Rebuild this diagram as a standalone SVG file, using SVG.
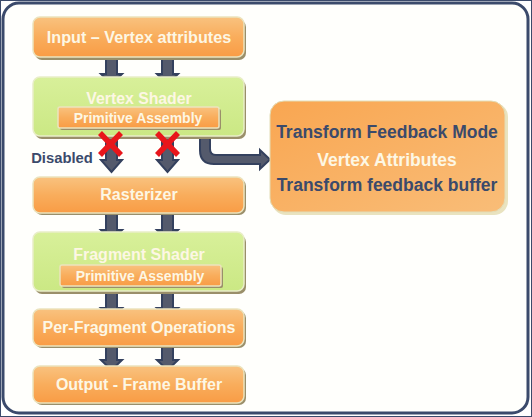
<svg xmlns="http://www.w3.org/2000/svg" width="532" height="417" viewBox="0 0 532 417">
<defs>
<linearGradient id="og" x1="0" y1="0" x2="0" y2="1">
<stop offset="0" stop-color="#f9c27f"/>
<stop offset="0.5" stop-color="#f9ad5c"/>
<stop offset="1" stop-color="#f99c45"/>
</linearGradient>
<linearGradient id="og2" x1="0" y1="0" x2="1" y2="1">
<stop offset="0" stop-color="#f9a651"/>
<stop offset="1" stop-color="#f9bd78"/>
</linearGradient>
<linearGradient id="gg" x1="0" y1="0" x2="0" y2="1">
<stop offset="0" stop-color="#d8f09a"/>
<stop offset="1" stop-color="#cbe884"/>
</linearGradient>
</defs>
<style>
.sh{fill:#9a8f6a;}
.ob{fill:url(#og);stroke:#ebe3bd;stroke-width:1.5;}
.gb{fill:url(#gg);stroke:#e9eec8;stroke-width:1.5;}
.t{font-family:"Liberation Sans",Arial,sans-serif;font-weight:bold;fill:#fdf7e4;text-anchor:middle;}
.d{font-family:"Liberation Sans",Arial,sans-serif;font-weight:bold;fill:#3b4a6b;text-anchor:middle;}
.ar{fill:#545a6c;stroke:#34415e;stroke-width:2;stroke-linejoin:miter;}
.x{stroke:#e8161b;stroke-width:5.5;stroke-linecap:butt;}
</style>
<rect x="0.5" y="0.5" width="531" height="416" fill="#ffffff" stroke="#3b4a6b" stroke-width="1"/>
<rect x="3" y="3" width="525" height="410" rx="16" fill="#fffffc" stroke="#3b4a6b" stroke-width="3"/>

<g id="connectors">
<path class="ar" d="M106,58 h11 v16 h5 l-10.5,10 l-10.5,-10 h5 z"/>
<path class="ar" d="M162,58 h11 v16 h5 l-10.5,10 l-10.5,-10 h5 z"/>
<path class="ar" d="M106,137 h11 v23 h5 l-10.5,12 l-10.5,-12 h5 z"/>
<path class="ar" d="M162,137 h11 v23 h5 l-10.5,12 l-10.5,-12 h5 z"/>
<path class="ar" d="M106,213 h11 v17 h5 l-10.5,10 l-10.5,-10 h5 z"/>
<path class="ar" d="M162,213 h11 v17 h5 l-10.5,10 l-10.5,-10 h5 z"/>
<path class="ar" d="M106,291 h11 v17 h5 l-10.5,10 l-10.5,-10 h5 z"/>
<path class="ar" d="M162,291 h11 v17 h5 l-10.5,10 l-10.5,-10 h5 z"/>
<path class="ar" d="M106,346 h11 v14 h5 l-10.5,10 l-10.5,-10 h5 z"/>
<path class="ar" d="M162,346 h11 v14 h5 l-10.5,10 l-10.5,-10 h5 z"/>
<path class="ar" d="M200,138 h10 v11 q0,6 6,6 h44 v-5 l10,9.5 l-10,9.5 v-5 h-46 q-14,0 -14,-14 z"/>
</g>

<g id="input">
<rect class="sh" x="35" y="20" width="211" height="40" rx="7"/>
<rect class="ob" x="33" y="17" width="211" height="40" rx="7"/>
<text class="t" x="139" y="43" font-size="16.2">Input – Vertex attributes</text>
</g>

<g id="vertex-shader">
<rect class="sh" x="35" y="80" width="211" height="59" rx="7"/>
<rect class="gb" x="33" y="77" width="211" height="59" rx="7"/>
<text class="t" x="139" y="104" font-size="15.8">Vertex Shader</text>
<rect class="sh" x="60" y="109" width="161" height="21" rx="2"/>
<rect class="ob" x="58" y="107" width="161" height="21" rx="2"/>
<text class="t" x="138" y="123" font-size="14">Primitive Assembly</text>
</g>

<g id="disabled-marks">
<path class="x" d="M100,133 L121,155 M121,133 L100,155"/>
<path class="x" d="M157,133 L178,155 M178,133 L157,155"/>
</g>

<text class="d" x="62" y="163" font-size="14.8">Disabled</text>

<g id="rasterizer">
<rect class="sh" x="35" y="179" width="211" height="36" rx="7"/>
<rect class="ob" x="33" y="177" width="211" height="36" rx="7"/>
<text class="t" x="139" y="200" font-size="16">Rasterizer</text>
</g>

<g id="fragment-shader">
<rect class="sh" x="35" y="235" width="211" height="59" rx="7"/>
<rect class="gb" x="33" y="232" width="211" height="59" rx="7"/>
<text class="t" x="139" y="260" font-size="16">Fragment Shader</text>
<rect class="sh" x="62" y="267" width="161" height="21" rx="2"/>
<rect class="ob" x="60" y="265" width="161" height="21" rx="2"/>
<text class="t" x="140" y="281" font-size="14">Primitive Assembly</text>
</g>

<g id="per-fragment">
<rect class="sh" x="35" y="311" width="211" height="37" rx="7"/>
<rect class="ob" x="33" y="309" width="211" height="37" rx="7"/>
<text class="t" x="139" y="333" font-size="16">Per-Fragment Operations</text>
</g>

<g id="output">
<rect class="sh" x="35" y="368" width="211" height="37" rx="7"/>
<rect class="ob" x="33" y="366" width="211" height="37" rx="7"/>
<text class="t" x="139" y="390" font-size="16">Output - Frame Buffer</text>
</g>

<g id="transform-feedback">
<rect x="272" y="103" width="236" height="112" rx="14" fill="#e9e3bf"/>
<rect x="270" y="101" width="235" height="111" rx="14" fill="url(#og2)" stroke="#e3ddb6" stroke-width="1"/>
<text class="d" x="387" y="138" font-size="17.5">Transform Feedback Mode</text>
<text class="t" x="387" y="166" font-size="17.5">Vertex Attributes</text>
<text class="d" x="387" y="191" font-size="17.5">Transform feedback buffer</text>
</g>
</svg>
